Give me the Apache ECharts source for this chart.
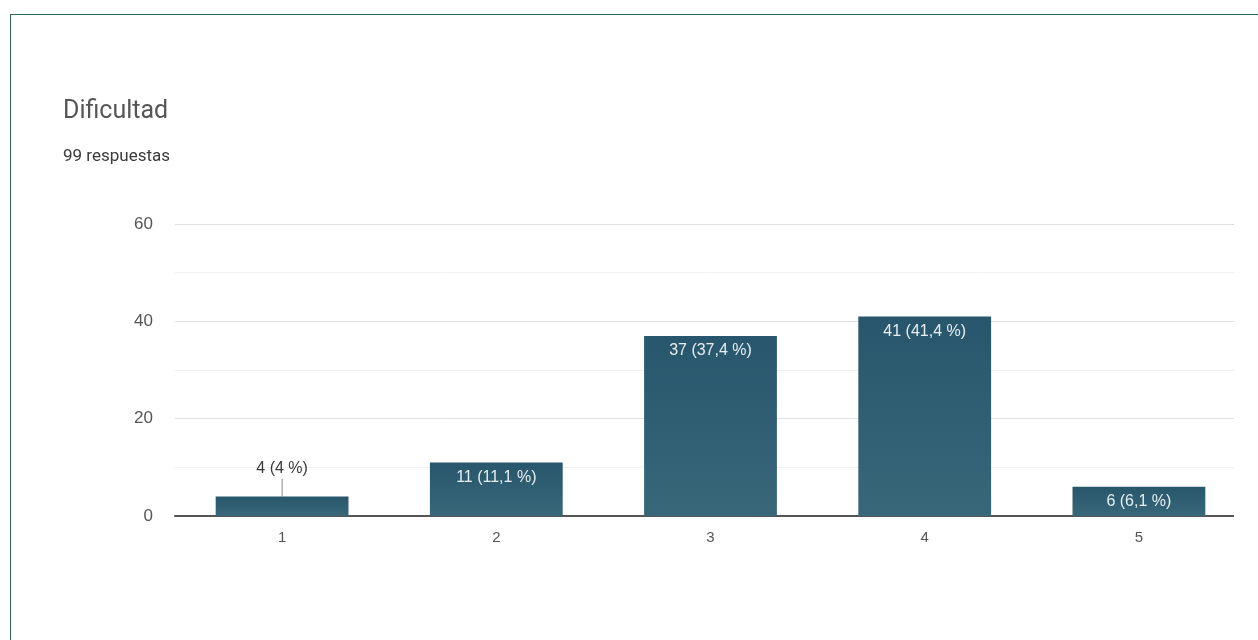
<!DOCTYPE html>
<html>
<head>
<meta charset="utf-8">
<script src="https://cdn.jsdelivr.net/npm/echarts@6/dist/echarts.min.js"></script>
<style>
html,body{margin:0;padding:0;background:#fff;overflow:hidden;}
#card{position:absolute;left:10px;top:14px;width:1300px;height:700px;border:1px solid #2b6a55;box-sizing:border-box;}
#chart{position:absolute;left:0;top:0;width:1258px;height:640px;}
</style>
</head>
<body>
<div id="card"></div>
<div id="chart"></div>
<script>
const categories = ['1', '2', '3', '4', '5'];
const counts = [4, 11, 37, 41, 6];
const percents = ['4', '11,1', '37,4', '41,4', '6,1'];
const yTicks = [0, 20, 40, 60];

const chart = echarts.init(document.getElementById('chart'));
const titleFont = 'Roboto, "Noto Sans", sans-serif';
const axisFont = '"Liberation Sans", Arial, sans-serif';

const data = counts.map((v, i) => {
  const text = v + ' (' + percents[i] + ' %)';
  if (i === 0) {
    return {
      value: v,
      label: {
        position: 'top', distance: 0,
        formatter: '{t|' + text + '}\n{l|}',
        rich: {
          t: { fontSize: 16, color: '#3a3a3a', fontFamily: axisFont, lineHeight: 20, align: 'center' },
          l: { width: 1, height: 18, backgroundColor: '#888', align: 'center' }
        }
      }
    };
  }
  return { value: v, label: { formatter: text } };
});

chart.setOption({
  animation: false,
  title: [
    { text: 'Dificultad', left: 58, top: 94, textStyle: { fontSize: 25, fontWeight: 'normal', color: '#555', fontFamily: titleFont } },
    { text: '99 respuestas', left: 58, top: 143, textStyle: { fontSize: 17, fontWeight: 'normal', color: '#3a3a3a', fontFamily: titleFont } }
  ],
  grid: { left: 175, right: 12, top: 224, bottom: 124, containLabel: false },
  graphic: [{
    type: 'rect', right: 0, top: 215, z: 100,
    shape: { width: 24, height: 310 },
    style: { fill: '#fff' }
  }],
  xAxis: {
    type: 'category',
    data: categories,
    axisLine: { show: true, lineStyle: { color: '#555', width: 2 } },
    axisTick: { show: false },
    axisLabel: { color: '#555', fontSize: 15, margin: 14, fontFamily: axisFont }
  },
  yAxis: {
    type: 'value',
    min: yTicks[0],
    max: yTicks[yTicks.length - 1],
    interval: 20,
    axisLine: { show: false },
    axisTick: { show: false },
    axisLabel: { color: '#555', fontSize: 17, margin: 22, fontFamily: axisFont },
    splitLine: { lineStyle: { color: '#e0e0e0', width: 1 } },
    minorTick: { show: false, splitNumber: 2 },
    minorSplitLine: { show: true, lineStyle: { color: '#f0f0f0', width: 1 } }
  },
  series: [{
    type: 'bar',
    data: data,
    barCategoryGap: '38%',
    itemStyle: {
      color: new echarts.graphic.LinearGradient(0, 0, 0, 1, [
        { offset: 0, color: '#28576d' },
        { offset: 1, color: '#38677a' }
      ])
    },
    label: {
      show: true,
      position: 'insideTop',
      distance: 7,
      color: '#e6eef2',
      fontSize: 16,
      fontFamily: axisFont
    }
  }]
});
</script>
</body>
</html>
